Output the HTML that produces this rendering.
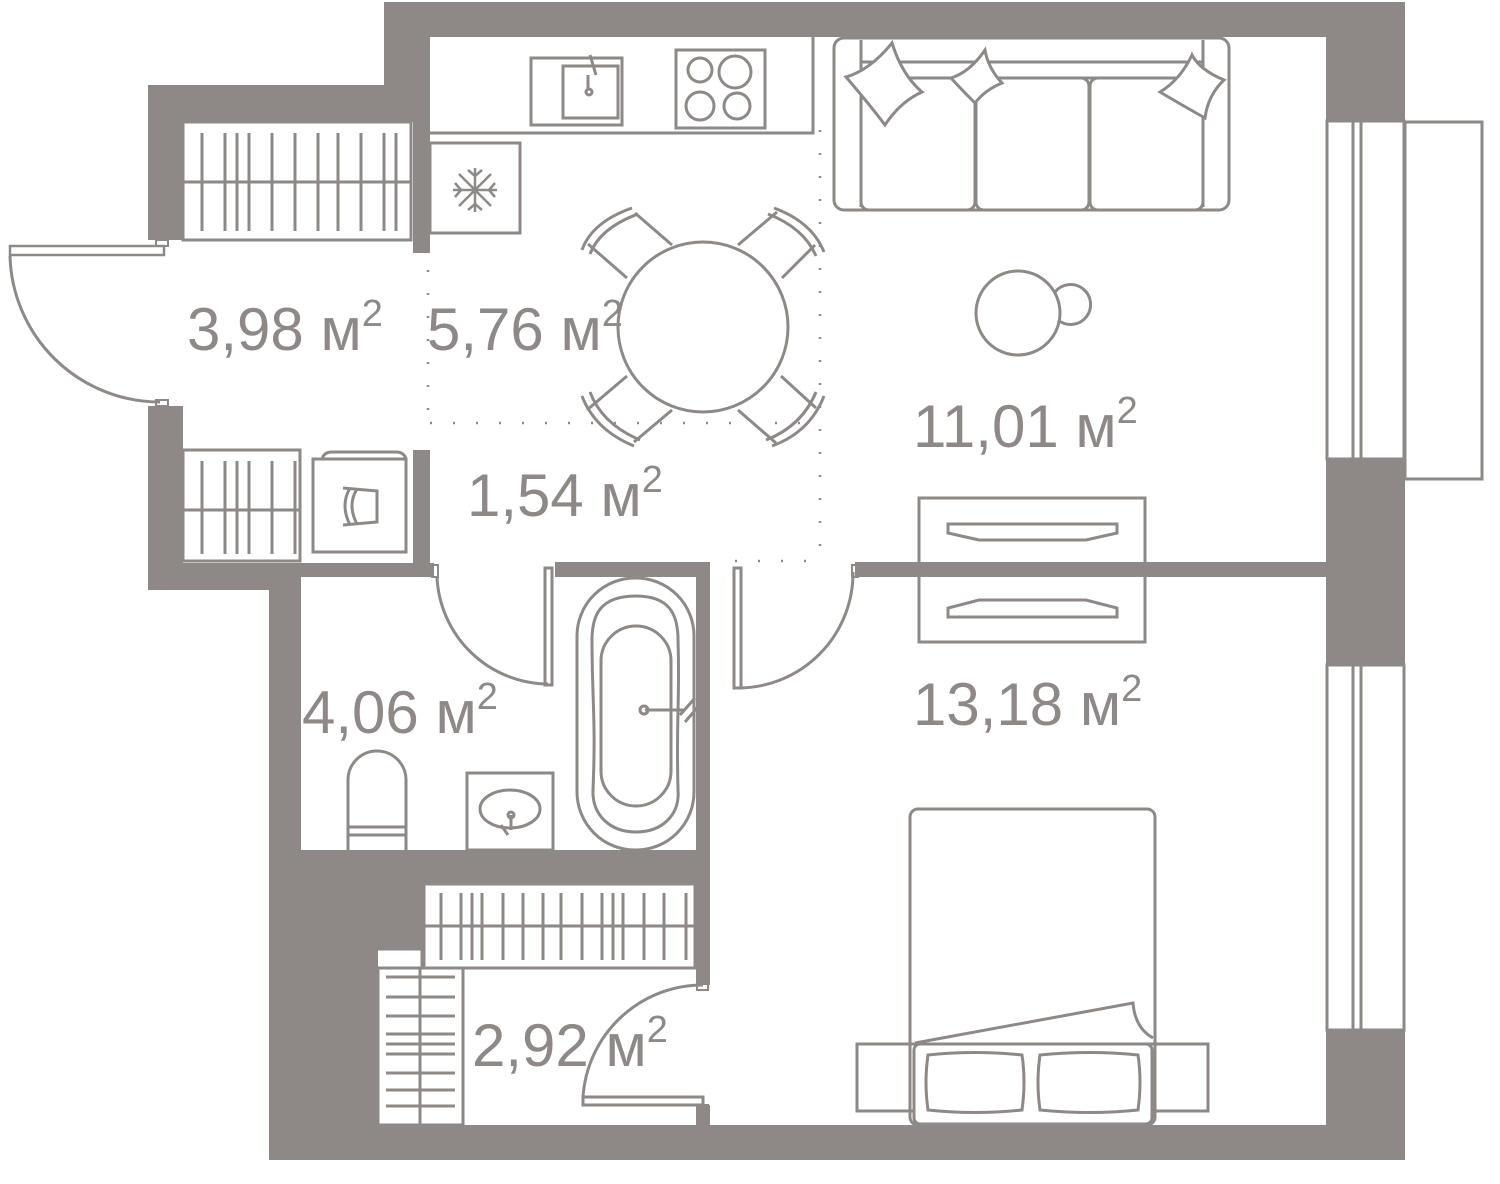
<!DOCTYPE html>
<html><head><meta charset="utf-8"><style>
html,body{margin:0;padding:0;background:#fff;}
svg{display:block;}
text{font-family:"Liberation Sans",sans-serif;fill:#8e8986;}
</style></head><body>
<svg width="1500" height="1184" viewBox="0 0 1500 1184" xmlns="http://www.w3.org/2000/svg">
<g fill="#8e8986">
<rect x="384" y="2" width="1021" height="35"/>
<rect x="384" y="2" width="46" height="120"/>
<rect x="413" y="100" width="17" height="153"/>
<rect x="148" y="85" width="282" height="37"/>
<rect x="148" y="85" width="35" height="155"/>
<rect x="148" y="406" width="35" height="184"/>
<rect x="148" y="563" width="152" height="27"/>
<rect x="183" y="563" width="251" height="14"/>
<rect x="413" y="450" width="17" height="127"/>
<rect x="269" y="563" width="32" height="597"/>
<rect x="269" y="1125" width="1136" height="35"/>
<rect x="555" y="562" width="141" height="15"/>
<rect x="696" y="562" width="14" height="423"/>
<rect x="696" y="1105" width="14" height="25"/>
<rect x="301" y="850" width="409" height="34"/>
<rect x="301" y="884" width="123" height="64"/>
<rect x="301" y="948" width="77" height="180"/>
<rect x="855" y="562" width="471" height="15"/>
<rect x="1326" y="2" width="79" height="119"/>
<rect x="1326" y="459" width="79" height="206"/>
<rect x="1326" y="1030" width="79" height="130"/>
</g>
<g fill="none" stroke="#8e8986" stroke-width="3">
<rect x="1327" y="121" width="77" height="338"/>
<line x1="1353" y1="121" x2="1353" y2="459"/><line x1="1361" y1="121" x2="1361" y2="459"/>
<rect x="1405" y="122" width="77" height="357"/>
<rect x="1327" y="665" width="77" height="365"/>
<line x1="1353" y1="665" x2="1353" y2="1030"/><line x1="1361" y1="665" x2="1361" y2="1030"/>
<rect x="10" y="246" width="154" height="9" stroke-width="2.5"/>
<path d="M10 256 A150 150 0 0 0 160 402"/>
<rect x="156" y="240" width="12" height="6" stroke-width="2"/>
<rect x="156" y="400" width="12" height="6" stroke-width="2"/>
<rect x="183" y="122" width="228" height="118"/>
<line x1="183" y1="182" x2="411" y2="182"/>
<path d="M202 133V231M225 133V231M237 133V231M249 133V231M272 133V231M295 133V231M318 133V231M338 133V231M361 133V231M384 133V231M396 133V231"/>
<rect x="183" y="450" width="117" height="111"/>
<line x1="183" y1="510" x2="300" y2="510"/>
<path d="M202 461V554M225 461V554M237 461V554M249 461V554M272 461V554M295 461V554"/>
<rect x="313" y="459" width="93" height="93"/>
<path d="M322 459 Q324 452 332 452 L396 452 Q404 452 406 459"/>
<path d="M343 488 L377 491 L377 522 L343 525 M350 488 Q340 505 350 525 M357 489 Q347 505 357 524"/>
<path d="M430 133 H813 V37"/>
<rect x="430" y="143" width="90" height="90"/>
<rect x="531" y="58" width="91" height="67"/>
<rect x="563" y="66" width="55" height="52"/>
<path d="M590 55 L596 75 M588 75 V90"/><circle cx="589" cy="92" r="3"/>
<rect x="676" y="50" width="89" height="78"/>
<circle cx="700" cy="70" r="12"/><circle cx="735" cy="72" r="16"/>
<circle cx="700" cy="106" r="14"/><circle cx="737" cy="106" r="13"/>
<g stroke-width="2.5"><path d="M475 168 V212 M453 190 H497 M459 174 L491 206 M491 174 L459 206"/><path d="M468 170 L475 176 L482 170 M468 210 L475 204 L482 210 M455 183 L461 190 L455 197 M495 183 L489 190 L495 197"/></g>
<g stroke-dasharray="2 21" stroke-width="2.5">
<line x1="428" y1="270" x2="428" y2="430"/>
<line x1="430" y1="423" x2="820" y2="423"/>
<line x1="820" y1="130" x2="820" y2="565"/>
<line x1="735" y1="561" x2="820" y2="561"/>
</g>
<circle cx="703" cy="327" r="85"/>
<path d="M627 278 L588 244 M672 245 L635 213 M738 245 L777 212 M782 278 L815 245"/>
<path d="M582 250 Q592 222 632 208 M590 254 Q600 228 638 214"/>
<path d="M774 208 Q812 222 824 252 M768 214 Q804 228 816 256"/>
<path d="M627 376 L587 410 M672 410 L634 442 M738 410 L776 443 M781 376 L816 408"/>
<path d="M582 396 Q595 430 634 446 M590 392 Q602 424 640 440"/>
<path d="M772 446 Q810 432 824 396 M766 440 Q802 426 816 392"/>
<rect x="834" y="38" width="395" height="172" rx="10"/>
<path d="M861 40 V207 M1203 40 V207"/>
<path d="M861 62 H1203 M861 78 H1203"/>
<rect x="861" y="78" width="114" height="132" rx="8"/>
<rect x="976" y="78" width="113" height="132" rx="8"/>
<rect x="1090" y="78" width="113" height="132" rx="8"/>
<path d="M846 77 Q870 70 892 43 Q902 75 922 92 Q900 102 885 125 Q870 105 846 77Z" fill="#fff"/>
<path d="M951 78 Q970 72 985 50 Q988 68 1002 83 Q985 90 975 103 Q960 88 951 78Z" fill="#fff"/>
<path d="M1160 92 Q1180 80 1192 55 Q1200 70 1224 80 Q1208 95 1205 118 Q1180 104 1160 92Z" fill="#fff"/>
<circle cx="1018" cy="313" r="42"/>
<path d="M1055 292 A20 20 0 1 1 1058 320"/>
<rect x="919" y="498" width="226" height="144"/>
<path d="M948 524 H1117 V533 L1086 540 H979 L948 533 Z"/>
<path d="M948 617 H1117 V608 L1086 600 H979 L948 608 Z"/>
<path d="M437 577 A112 112 0 0 0 548 684"/>
<rect x="545" y="568" width="7" height="117"/>
<rect x="432" y="565" width="6" height="12" stroke-width="2"/>
<path d="M853 572 A115 115 0 0 1 738 688"/>
<rect x="734" y="568" width="7" height="120"/>
<rect x="852" y="565" width="6" height="12" stroke-width="2"/>
<rect x="577" y="578" width="117" height="272" rx="58"/>
<path d="M636 596 C600 596 592 615 592 640 C592 700 596 720 593 790 C592 815 610 832 636 832 C662 832 680 815 678 790 C676 720 680 700 678 640 C678 615 670 596 636 596Z"/>
<rect x="601" y="626" width="70" height="180" rx="35"/>
<path d="M645 710 H685"/><circle cx="644" cy="710" r="4"/>
<path d="M680 715 L695 698 M685 722 L697 708"/>
<path d="M348 850 V780 A29 29 0 0 1 406 780 V850"/>
<path d="M348 827 H406 M348 835 H406"/>
<rect x="467" y="773" width="86" height="77"/>
<ellipse cx="510" cy="809" rx="30" ry="19"/>
<path d="M511 815 V830 M501 825 L508 835"/><circle cx="511" cy="815" r="3"/>
<rect x="424" y="884" width="271" height="84"/>
<line x1="424" y1="926" x2="695" y2="926"/>
<path d="M441 893V960M461 893V960M472 893V960M482 893V960M503 893V960M523 893V960M543 893V960M561 893V960M582 893V960M602 893V960M613 893V960M623 893V960M644 893V960M664 893V960M686 893V960"/>
<rect x="376" y="949" width="46" height="19"/>
<rect x="378" y="968" width="85" height="157"/>
<line x1="420" y1="968" x2="420" y2="1125"/>
<path d="M386 977H455M386 997H455M386 1016H455M386 1034H455M386 1044H455M386 1054H455M386 1073H455M386 1090H455M386 1106H455"/>
<rect x="583" y="1097" width="120" height="8"/>
<path d="M583 1097 A120 120 0 0 1 703 985"/>
<rect x="697" y="983" width="11" height="7" stroke-width="2"/>
<rect x="697" y="1105" width="11" height="6" stroke-width="2"/>
<rect x="910" y="809" width="245" height="316" rx="8"/>
<rect x="857" y="1044" width="351" height="67"/>
<rect x="914" y="1044" width="238" height="80" rx="6" fill="#fff"/>
<path d="M915 1043 L1133 1003 Q1135 1028 1153 1038"/>
<path d="M928 1055 Q975 1050 1022 1055 Q1026 1082 1022 1110 Q975 1115 928 1110 Q924 1082 928 1055Z"/>
<path d="M1040 1055 Q1090 1050 1138 1055 Q1142 1082 1138 1110 Q1090 1115 1040 1110 Q1036 1082 1040 1055Z"/>
</g>
<g font-size="60">
<text x="187" y="350">3,98 м<tspan font-size="38" dy="-24">2</tspan></text>
<text x="427" y="350">5,76 м<tspan font-size="38" dy="-24">2</tspan></text>
<text x="467" y="516">1,54 м<tspan font-size="38" dy="-24">2</tspan></text>
<text x="913" y="447">11,01 м<tspan font-size="38" dy="-24">2</tspan></text>
<text x="913" y="725">13,18 м<tspan font-size="38" dy="-24">2</tspan></text>
<text x="302" y="733">4,06 м<tspan font-size="38" dy="-24">2</tspan></text>
<text x="472" y="1066">2,92 м<tspan font-size="38" dy="-24">2</tspan></text>
</g>
</svg>
</body></html>
